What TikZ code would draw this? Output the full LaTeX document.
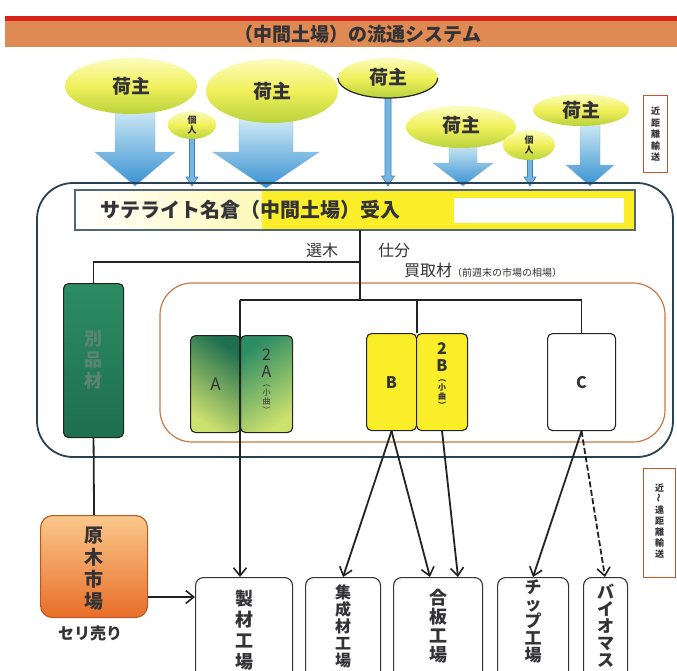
\documentclass[tikz,border=0pt]{standalone}
\usepackage{fontspec}
\usepackage{graphicx}
\newfontfamily\jp{Noto Sans CJK JP}
\usetikzlibrary{arrows.meta,calc,shapes.geometric}
\definecolor{linec}{RGB}{35,35,35}
\definecolor{titleor}{RGB}{222,138,82}
\definecolor{titlered}{RGB}{215,35,30}
\definecolor{elltop}{RGB}{252,252,190}
\definecolor{ellmid}{RGB}{240,240,90}
\definecolor{ellbot}{RGB}{185,210,60}
\definecolor{arrtop}{RGB}{210,235,245}
\definecolor{arrbot}{RGB}{55,145,210}
\definecolor{arredge}{RGB}{60,130,190}
\definecolor{bigedge}{RGB}{40,65,85}
\definecolor{buyedge}{RGB}{200,120,70}
\definecolor{sideedge}{RGB}{205,85,45}
\definecolor{gdark}{RGB}{30,110,80}
\definecolor{gmid}{RGB}{45,140,100}
\definecolor{glight}{RGB}{205,225,110}
\definecolor{yel}{RGB}{250,238,40}
\definecolor{orl}{RGB}{250,200,140}
\definecolor{ord}{RGB}{232,110,40}
\definecolor{txtd}{RGB}{50,50,55}
\newcommand\fs[2]{\fontsize{#1}{#2}\selectfont}
\newcommand\blockarrow[7][barrow]{%
 \path[#1] (#2-#4,#3) -- (#2+#4,#3) -- (#2+#4,#5) -- (#2+#6,#5) -- (#2,#7) -- (#2-#6,#5) -- (#2-#4,#5) -- cycle;}
\begin{document}
\begin{tikzpicture}[x=1pt,y=-1pt,
  font=\jp,
  barrow/.style={top color=arrtop, bottom color=arrbot, draw=arredge!60, line width=0.4pt},
  tarrow/.style={fill=arrtop!40!arrbot, draw=arredge, line width=0.6pt},
  nushi/.style={ellipse, inner sep=0pt, top color=elltop, bottom color=ellbot, middle color=ellmid, font=\jp\bfseries\fs{19}{20}, text=txtd},
  kojin/.style={ellipse, inner sep=0pt, top color=elltop, bottom color=ellbot, middle color=ellmid, font=\jp\bfseries\fs{9}{10}, text=txtd, align=center},
  ln/.style={line width=1.8pt, draw=linec},
  arr/.style={ln, -{Straight Barb[length=8pt,width=13pt,line width=1.6pt]}},
  darr/.style={arr, dashed, dash pattern=on 6pt off 2.5pt},
  fac/.style={draw=txtd, line width=1.1pt, rounded corners=8pt, fill=white, anchor=north west, inner sep=0pt},
  vlab/.style={anchor=north, align=center, text=txtd, inner sep=0pt},
  grade/.style={draw=linec, line width=1.1pt, rounded corners=5pt, anchor=north west, inner sep=0pt},
  sidebox/.style={draw=sideedge, line width=1.4pt, fill=white, anchor=north west, inner sep=0pt},
]
\useasboundingbox (0,0) rectangle (677,670);
% title bar
\fill[titlered] (5,16) rectangle (677,21);
\fill[titleor] (5,21) rectangle (677,47);
\node[font=\jp\bfseries\fs{19}{20}, text=txtd] (title) at (358,34) {（中間土場）の流通システム};
% block arrows from shippers
\blockarrow{135}{108}{20}{152}{40}{186}
\blockarrow{266}{118}{27}{152}{53}{188}
\blockarrow{463}{143}{14}{163}{30}{186}
\blockarrow{590}{122}{10}{165}{24}{186}
\blockarrow[tarrow]{192}{135}{2.5}{177}{6}{186}
\blockarrow[tarrow]{388}{95}{3}{176}{6.5}{186}
\blockarrow[tarrow]{530}{158}{2.5}{177}{6}{186}
% shippers
\node[nushi, minimum width=132pt, minimum height=56pt] (e1) at (131,86) {荷主};
\node[nushi, minimum width=132pt, minimum height=64pt] (e2) at (272,91) {\raisebox{-3pt}{荷主}};
\node[kojin, minimum width=48pt, minimum height=28pt] (k1) at (192,125) {個\\人};
\node[nushi, minimum width=100pt, minimum height=40pt] (e3) at (388,78) {\raisebox{3pt}{荷主}};
\draw[linec, line width=1.2pt] (e3.west) arc[start angle=180, end angle=360, x radius=50, y radius=-20];
\node[nushi, minimum width=110pt, minimum height=42pt] (e4) at (461,127) {\raisebox{5pt}{荷主}};
\node[kojin, minimum width=52pt, minimum height=30pt] (k2) at (529,145) {個\\人};
\node[nushi, minimum width=96pt, minimum height=32pt] (e6) at (581,110) {荷主};
% side labels
\node[sidebox, minimum width=24pt, minimum height=77pt] (s1) at (643,95) {};
\node[vlab, font=\jp\bfseries\fs{9}{11.5}] (s1t) at ($(s1.north)+(0,12)$) {近\\距\\離\\輸\\送};
\node[sidebox, minimum width=32pt, minimum height=109pt] (s2) at (643,468) {};
\node[vlab, font=\jp\bfseries\fs{9}{11}] (s2t) at ($(s2.north)+(0,16)$) {近\\\rotatebox{90}{～}\\遠\\距\\離\\輸\\送};
% main container
\draw[bigedge, line width=1.8pt, rounded corners=36pt] (37,183) rectangle (673,457);
% receiving bar
\shade[left color=white, right color=yel, middle color=white!50!yel, draw=none] (75,190) rectangle (635,230);
\fill[yel] (262,190) rectangle (635,230);
\fill[white] (454,198) rectangle (624,223);
\draw[bigedge!80, line width=1.5pt] (75,190) rectangle (635,230);
\node[anchor=west, font=\jp\bfseries\fs{20}{22}, text=txtd, inner sep=0pt] (bar) at (100,210) {サテライト名倉（中間土場）受入};
\coordinate (barb) at (360,230);
% sorting labels
\node[font=\jp\fs{16}{18}, text=txtd] (senboku) at (322,250) {選木};
\node[font=\jp\fs{16}{18}, text=txtd] (shiwake) at (394,250) {仕分};
\node[anchor=west, font=\jp\fs{16}{18}, text=txtd, inner sep=0pt] (kaitori) at (404,270) {買取材{\fs{10}{12}（前週末の市場の相場）}};
% purchased-material area
\draw[buyedge, line width=1.2pt, rounded corners=32pt] (160,283) rectangle (665,442);
% boxes
\node[grade, minimum width=60pt, minimum height=154pt, top color=gmid, bottom color=gdark] (betsu) at (63,283) {};
\node[vlab, font=\jp\bfseries\fs{18}{21}, text=gmid!45!gray] (betsut) at ($(betsu.north)+(0,47)$) {別\\品\\材};
\node[grade, minimum width=50pt, minimum height=97pt, shading=axis, top color=gdark, bottom color=glight, shading angle=-35] (A) at (190,335) {};
\node[grade, minimum width=52pt, minimum height=97pt, shading=axis, top color=gmid, bottom color=glight, shading angle=35] (A2) at (240,335) {};
\node[font=\jp\fs{17}{18}, text=txtd] (At) at (A.center) {A};
\node[vlab, font=\jp\fs{16}{17}] (A2t) at ($(A2.north)+(0,14)$) {2\\A};
\node[vlab, font=\jp\fs{8}{9}] (A2s) at ($(A2.north)+(0,50)$) {︵\\小\\曲\\︶};
\node[grade, minimum width=50pt, minimum height=97pt, fill=yel] (B) at (366,333) {};
\node[grade, minimum width=51pt, minimum height=97pt, fill=yel] (B2) at (416,333) {};
\node[font=\jp\bfseries\fs{16}{18}, text=txtd] (Bt) at (B.center) {B};
\node[vlab, font=\jp\bfseries\fs{16}{17}] (B2t) at ($(B2.north)+(0,9)$) {2\\B};
\node[vlab, font=\jp\bfseries\fs{8}{9}] (B2s) at ($(B2.north)+(0,46)$) {︵\\小\\曲\\︶};
\node[grade, minimum width=68pt, minimum height=97pt, fill=white] (C) at (547,333) {};
\node[font=\jp\bfseries\fs{16}{18}, text=txtd] (Ct) at (C.center) {C};
% market
\node[grade, minimum width=107pt, minimum height=102pt, top color=orl, bottom color=ord, draw=ord!80!black, rounded corners=12pt] (market) at (40,515) {};
\node[vlab, font=\jp\bfseries\fs{19}{22}] (markett) at ($(market.north)+(0,12)$) {原\\木\\市\\場};
\node[font=\jp\bfseries\fs{16}{18}, text=txtd] (seri) at (90,633) {セリ売り};
% factories
\node[fac, minimum width=97pt, minimum height=110pt] (seizai) at (195,577) {};
\node[vlab, font=\jp\bfseries\fs{18}{21}] (seizait) at ($(seizai.north)+(0,13)$) {製\\材\\工\\場};
\node[fac, minimum width=75pt, minimum height=110pt] (shusei) at (305,577) {};
\node[vlab, font=\jp\bfseries\fs{16}{17}] (shuseit) at ($(shusei.north)+(0,8)$) {集\\成\\材\\工\\場};
\node[fac, minimum width=89pt, minimum height=110pt] (gohan) at (393,577) {};
\node[vlab, font=\jp\bfseries\fs{18}{19}] (gohant) at ($(gohan.north)+(0,12)$) {合\\板\\工\\場};
\node[fac, minimum width=71pt, minimum height=110pt] (chip) at (497,577) {};
\node[vlab, font=\jp\bfseries\fs{17}{17}] (chipt) at ($(chip.north)+(0,3)$) {チ\\ッ\\プ\\工\\場};
\node[fac, minimum width=44pt, minimum height=110pt] (bio) at (583,577) {};
\node[vlab, font=\jp\bfseries\fs{17}{17}] (biot) at ($(bio.north)+(0,7)$) {バ\\イ\\オ\\マ\\ス};
% connectors
\coordinate (j1) at (360,262);
\coordinate (j2) at (360,300);
\coordinate (jA) at (240,300);
\coordinate (jB) at (417,300);
\coordinate (jC) at (C.north |- j2);
\draw[ln] (barb) -- (j2);
\draw[ln] (j1) -| (betsu.north);
\draw[ln] (jA) -- (jC) -- (C.north);
\draw[ln] (jB) -- (B.north east);
\draw[arr] (jA) -- (jA |- seizai.north);
\draw[ln] (betsu.south) -- (market.north);
\draw[arr] (market.east |- 0,597) -- (seizai.west |- 0,597);
\draw[arr] (B.south) -- (343,577);
\draw[arr] (B.south) -- (430,577);
\draw[arr] (B2.south) -- (458,577);
\draw[arr] (C.south) -- (533,577);
\draw[darr] (C.south) -- (605,577);
\end{tikzpicture}
\end{document}
